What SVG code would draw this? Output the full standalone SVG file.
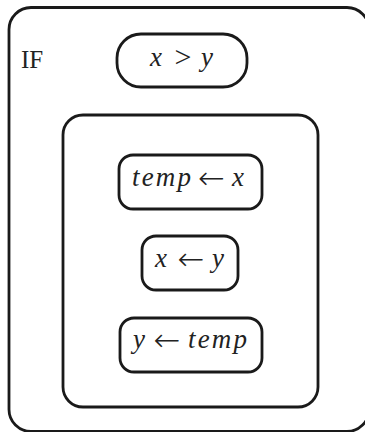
<svg xmlns="http://www.w3.org/2000/svg" width="365" height="432" viewBox="0 0 365 432">
<style>
.box{fill:none;stroke:#1a1a1a;stroke-width:2.8}
.m{font-family:"Liberation Serif","DejaVu Serif",serif;font-style:italic;font-size:27px;fill:#222}
.o{font-family:"Liberation Serif","DejaVu Serif",serif;font-size:30px;fill:#222;text-anchor:middle}
.a{font-family:"DejaVu Sans",sans-serif;font-weight:200;font-size:32px;fill:#222;text-anchor:middle}
.r{font-family:"Liberation Serif","DejaVu Serif",serif;font-size:25px;fill:#222}
</style>
<rect width="365" height="432" fill="#fff"/>
<g id="if-block">
<rect class="box" x="9" y="7.5" width="360" height="424" rx="22"/>
<text class="r" x="21" y="68">IF</text>
</g>
<g id="cond">
<rect class="box" x="117" y="34" width="130" height="53" rx="24"/>
<text class="m" x="150" y="66">x</text>
<text class="o" x="183" y="67">&gt;</text>
<text class="m" x="201" y="66">y</text>
</g>
<g id="body">
<rect class="box" x="63" y="115" width="255" height="292" rx="20"/>
</g>
<g id="s1">
<rect class="box" x="119" y="155" width="143" height="54" rx="14"/>
<text class="m" x="132" y="186" textLength="59" lengthAdjust="spacing">temp</text>
<text class="a" x="211.5" y="188.6">←</text>
<text class="m" x="232" y="186">x</text>
</g>
<g id="s2">
<rect class="box" x="142" y="236" width="96" height="54" rx="14"/>
<text class="m" x="155" y="267">x</text>
<text class="a" x="191" y="269.6">←</text>
<text class="m" x="212" y="267">y</text>
</g>
<g id="s3">
<rect class="box" x="120" y="318" width="142" height="54" rx="14"/>
<text class="m" x="133" y="348">y</text>
<text class="a" x="167" y="350.6">←</text>
<text class="m" x="188" y="348" textLength="59" lengthAdjust="spacing">temp</text>
</g>
<g id="connectors"></g>
</svg>
